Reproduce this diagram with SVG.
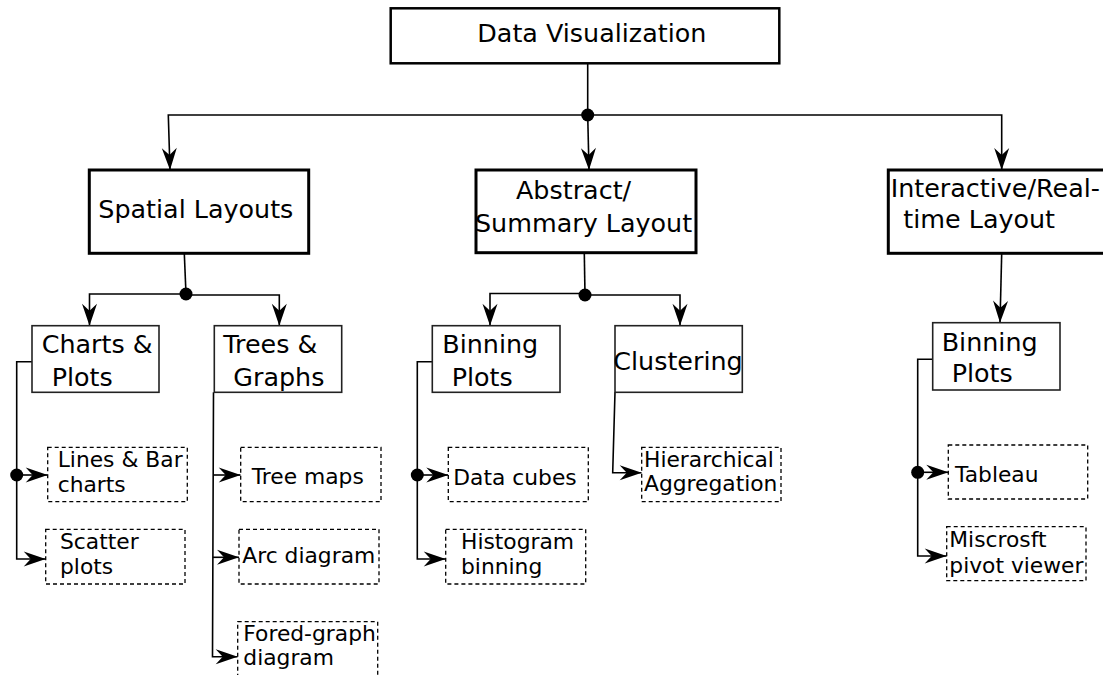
<svg xmlns="http://www.w3.org/2000/svg" width="1103" height="675" viewBox="0 0 1103 675">
<style>
text{font-family:"DejaVu Sans","Noto Sans",sans-serif;fill:#000}
.t1{font-size:25.4px}
.t2{font-size:21.8px}
.b0{fill:#fff;stroke:#000;stroke-width:2.5}
.b1{fill:#fff;stroke:#000;stroke-width:3}
.b2{fill:#fff;stroke:#222;stroke-width:1.6}
.b3{fill:#fff;stroke:#000;stroke-width:1.3;stroke-dasharray:4 3}
.c{fill:none;stroke:#000;stroke-width:1.6}
.a{marker-end:url(#arr)}
</style>
<defs>
<marker id="arr" markerUnits="userSpaceOnUse" markerWidth="26" markerHeight="18" viewBox="-24 -9 26 18" refX="0" refY="0" orient="auto">
<path d="M0,0 L-22,-7.5 L-15,0 L-22,7.5 Z" fill="#000"/>
</marker>
</defs>
<g id="connectors">
<path class="c" d="M587.7,63.3 V115"/>
<path class="c a" d="M587.7,115 H168.3 L170,170"/>
<path class="c a" d="M587.7,115 L589,170"/>
<path class="c a" d="M587.7,115 H1001.7 V170"/>
<circle cx="587.7" cy="115" r="6.5" fill="#000"/>
<path class="c" d="M184.3,253.3 L186,294"/>
<path class="c a" d="M186,294 H89.5 V325.7"/>
<path class="c a" d="M186,295 H279.3 V325.7"/>
<circle cx="186" cy="294" r="6.5" fill="#000"/>
<path class="c" d="M584.3,253.3 L585,295"/>
<path class="c a" d="M585,293.5 H490 V325.7"/>
<path class="c a" d="M585,295 H680 V325.7"/>
<circle cx="585" cy="295" r="6.5" fill="#000"/>
<path class="c a" d="M1001.7,253.3 L1000,322.7"/>
<path class="c a" d="M32,361.7 H16.7 V559 H45.7"/>
<path class="c a" d="M16.7,475 H47.7"/>
<circle cx="16.7" cy="475" r="6.5" fill="#000"/>
<path class="c a" d="M213.5,392.3 L212.5,656.7 H237.7"/>
<path class="c a" d="M213.2,475 H240.7"/>
<path class="c a" d="M212.8,557.3 H239"/>
<path class="c a" d="M432.3,361.7 H417.3 V559 H445.7"/>
<path class="c a" d="M417.3,475 H448.3"/>
<circle cx="417.3" cy="475" r="6.5" fill="#000"/>
<path class="c a" d="M615,392.3 L612.7,472.7 H641.7"/>
<path class="c a" d="M932.7,359.3 H917.7 V556 H946.7"/>
<path class="c a" d="M917.7,472.3 H948.3"/>
<circle cx="917.7" cy="472.3" r="6.5" fill="#000"/>
</g>
<g id="data-visualization">
<rect class="b0" x="390.7" y="8.3" width="388.6" height="55"/>
<text class="t1" x="477.3" y="41.7">Data Visualization</text>
</g>
<g id="spatial-layouts">
<rect class="b1" x="89.3" y="170" width="219.4" height="83.3"/>
<text class="t1" x="98.3" y="218.3">Spatial Layouts</text>
</g>
<g id="abstract-summary-layout">
<rect class="b1" x="476" y="170" width="220" height="82.7"/>
<text class="t1" x="516" y="199.3">Abstract/</text>
<text class="t1" x="475" y="231.7">Summary Layout</text>
</g>
<g id="interactive-realtime-layout">
<rect class="b1" x="888.3" y="170" width="222" height="83.3"/>
<text class="t1" x="890.7" y="196.7">Interactive/Real-</text>
<text class="t1" x="903.3" y="228.3">time Layout</text>
</g>
<g id="charts-plots">
<rect class="b2" x="32" y="325.7" width="127" height="66.6"/>
<text class="t1" x="41.7" y="353.3">Charts &amp;</text>
<text class="t1" x="51.7" y="386.3">Plots</text>
</g>
<g id="trees-graphs">
<rect class="b2" x="214.3" y="325.7" width="127.4" height="66.6"/>
<text class="t1" x="223.3" y="353.3">Trees &amp;</text>
<text class="t1" x="233.3" y="386.3">Graphs</text>
</g>
<g id="binning-plots-1">
<rect class="b2" x="432.3" y="325.7" width="127.7" height="66.6"/>
<text class="t1" x="442.3" y="353.3">Binning</text>
<text class="t1" x="451.7" y="386.3">Plots</text>
</g>
<g id="clustering">
<rect class="b2" x="615" y="325.7" width="127.3" height="66.6"/>
<text class="t1" x="613.3" y="370">Clustering</text>
</g>
<g id="binning-plots-2">
<rect class="b2" x="932.7" y="322.7" width="127.3" height="67.3"/>
<text class="t1" x="941.7" y="351.3">Binning</text>
<text class="t1" x="951.7" y="382.3">Plots</text>
</g>
<g id="lines-bar-charts">
<rect class="b3" x="47.7" y="447.3" width="139.6" height="54.4"/>
<text class="t2" x="57.7" y="466.7">Lines &amp; Bar</text>
<text class="t2" x="57.7" y="491.7">charts</text>
</g>
<g id="scatter-plots">
<rect class="b3" x="45.7" y="529.3" width="139.3" height="54.7"/>
<text class="t2" x="60" y="549.3">Scatter</text>
<text class="t2" x="60" y="574.3">plots</text>
</g>
<g id="tree-maps">
<rect class="b3" x="240.7" y="447.3" width="140.3" height="54.4"/>
<text class="t2" x="251.7" y="484.3">Tree maps</text>
</g>
<g id="arc-diagram">
<rect class="b3" x="239" y="529.3" width="140" height="54.7"/>
<text class="t2" x="242.3" y="563.3">Arc diagram</text>
</g>
<g id="fored-graph-diagram">
<rect class="b3" x="237.7" y="621.7" width="140" height="56"/>
<text class="t2" x="243.3" y="640.7">Fored-graph</text>
<text class="t2" x="243.3" y="665">diagram</text>
</g>
<g id="data-cubes">
<rect class="b3" x="448.3" y="447.3" width="140" height="54.4"/>
<text class="t2" x="453.3" y="485">Data cubes</text>
</g>
<g id="histogram-binning">
<rect class="b3" x="445.7" y="529.3" width="140" height="54.7"/>
<text class="t2" x="461" y="549.3">Histogram</text>
<text class="t2" x="461" y="574.3">binning</text>
</g>
<g id="hierarchical-aggregation">
<rect class="b3" x="641.7" y="447.3" width="139.3" height="54.4"/>
<text class="t2" x="644" y="466.7">Hierarchical</text>
<text class="t2" x="644" y="490.7">Aggregation</text>
</g>
<g id="tableau">
<rect class="b3" x="948.3" y="445" width="139.4" height="54"/>
<text class="t2" x="955" y="481.7">Tableau</text>
</g>
<g id="microsoft-pivot-viewer">
<rect class="b3" x="946.7" y="526.7" width="139.3" height="54"/>
<text class="t2" x="949.3" y="546.7">Miscrosft</text>
<text class="t2" x="949.3" y="572.7">pivot viewer</text>
</g>
</svg>
